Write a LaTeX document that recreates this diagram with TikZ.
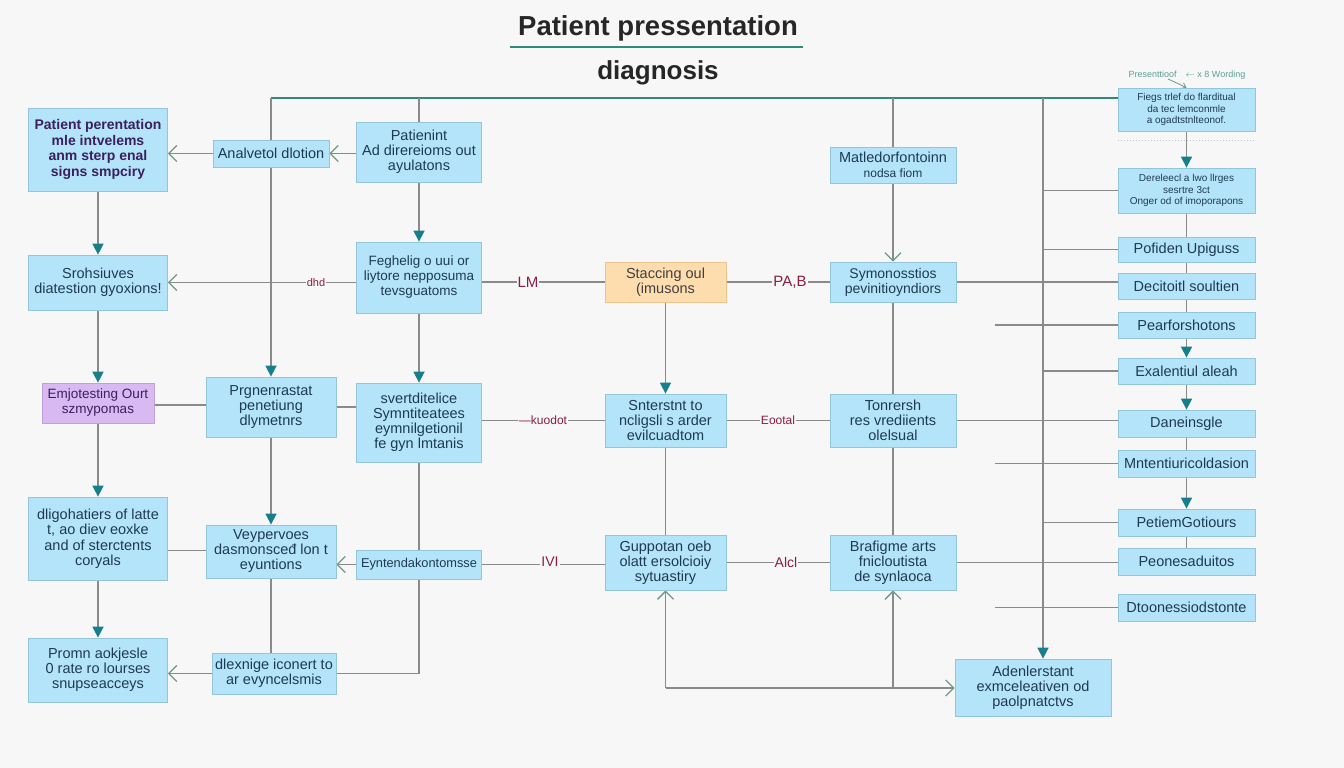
\documentclass[tikz,border=0pt]{standalone}
\usepackage{fontspec}
\setmainfont{Liberation Sans}
\usetikzlibrary{arrows.meta,calc}
\definecolor{bgc}{HTML}{F7F7F7}
\definecolor{boxfill}{HTML}{B4E4F9}
\definecolor{boxline}{HTML}{93C5DD}
\definecolor{txt}{HTML}{1E3A52}
\definecolor{purtxt}{HTML}{3B1F5E}
\definecolor{lavfill}{HTML}{D8B9F2}
\definecolor{lavline}{HTML}{BFA0DE}
\definecolor{orfill}{HTML}{FDDCAE}
\definecolor{orline}{HTML}{EEC48E}
\definecolor{lnc}{HTML}{8A8A8A}
\definecolor{topc}{HTML}{2F8A7C}
\definecolor{tipc}{HTML}{167F8C}
\definecolor{oac}{HTML}{6E9A8A}
\definecolor{lblred}{HTML}{8B1E3F}
\pgfdeclarelayer{back}
\pgfdeclarelayer{lines}
\pgfsetlayers{back,lines,main}
\tikzset{
  box/.style={draw=boxline, fill=boxfill, line width=0.8pt, align=center, inner sep=1pt,
    text=txt, font=\fontsize{14.5}{15}\selectfont},
  sbox/.style={box, font=\fontsize{10}{11.5}\selectfont},
  rbox/.style={box, minimum width=137pt, font=\fontsize{14.5}{15}\selectfont},
  ln/.style={draw=lnc, line width=1.6pt},
  topl/.style={draw=topc, line width=1.8pt},
  farr/.style={-{Triangle[length=11pt,width=11pt,fill=tipc,color=tipc]}},
  oarr/.style={-{Straight Barb[length=8pt,width=16pt,color=oac,line width=1.3pt]}},
  lbl/.style={text=lblred, fill=bgc, inner sep=1pt, font=\fontsize{13}{13}\selectfont},
}
\begin{document}
\begin{tikzpicture}[x=1pt,y=-1pt]
\begin{pgfonlayer}{back}
\fill[bgc] (0,0) rectangle (1344,768);
\end{pgfonlayer}
\useasboundingbox (0,0) rectangle (1344,768);

% title
\node[font=\bfseries\fontsize{27.5}{29}\selectfont, text=black!85] (title1) at (658,28) {Patient pressentation};
\node[font=\bfseries\fontsize{26}{28}\selectfont, text=black!85] (title2) at (658,73) {diagnosis};
\coordinate (ul1) at (510,47);
\coordinate (ul2) at (803,47);
\draw[draw=topc, line width=2.4pt] (ul1) -- (ul2);

% column A
\node[box, minimum width=139pt, minimum height=83pt, text=purtxt, font=\bfseries\fontsize{14}{15.5}\selectfont] (a1) at (98,149.5) {Patient perentation\\ mle intvelems\\ anm sterp enal\\ signs smpciry};
\node[box, minimum width=139pt, minimum height=55pt] (a2) at (98,282.5) {Srohsiuves\\ diatestion gyoxions!};
\node[box, draw=lavline, fill=lavfill, text=purtxt, minimum width=112pt, minimum height=40pt, font=\fontsize{13.5}{15}\selectfont] (a3) at (98,403) {Emjotesting Ourt\\ szmypomas};
\node[box, minimum width=139pt, minimum height=83pt, font=\fontsize{14.5}{15.5}\selectfont] (a4) at (98,538.5) {dligohatiers of latte\\ t, ao diev eoxke\\ and of sterctents\\ coryals};
\node[box, minimum width=139pt, minimum height=64pt] (a5) at (98,670) {Promn aokjesle\\ 0 rate ro lourses\\ snupseacceys};

% column B
\node[box, minimum width=116pt, minimum height=27pt] (b1) at (271,153.5) {Analvetol dlotion};
\node[box, minimum width=130pt, minimum height=60pt] (b2) at (271,407) {Prgnenrastat\\ penetiung\\ dlymetnrs};
\node[box, minimum width=130pt, minimum height=53pt] (b3) at (271,551.5) {Veypervoes\\ dasmonsceđ lon t\\ eyuntions};
\node[box, minimum width=124pt, minimum height=41pt] (b4) at (274,673.5) {dlexnige iconert to\\ ar evyncelsmis};

% column C
\node[box, minimum width=125pt, minimum height=60pt] (c1) at (419,152) {Patienint\\ Ad direreioms out\\ ayulatons};
\node[box, minimum width=125pt, minimum height=71pt, font=\fontsize{13.5}{15}\selectfont] (c2) at (419,277.5) {Feghelig o uui or\\ liytore nepposuma\\ tevsguatoms};
\node[box, minimum width=125pt, minimum height=79pt] (c3) at (419,422.5) {svertditelice\\ Symntiteatees\\ eymnilgetionil\\ fe gyn lmtanis};
\node[box, minimum width=125pt, minimum height=29pt, font=\fontsize{12.8}{14}\selectfont] (c4) at (419,564.5) {Eyntendakontomsse};

% column D
\node[box, draw=orline, fill=orfill, text=black!75, minimum width=121pt, minimum height=40pt] (d1) at (665.5,282) {Staccing oul\\ (imusons};
\node[box, minimum width=121pt, minimum height=53pt] (d2) at (665.5,420.5) {Snterstnt to\\ ncligsli s arder\\ evilcuadtom};
\node[box, minimum width=121pt, minimum height=55pt] (d3) at (665.5,562.5) {Guppotan oeb\\ olatt ersolcioiy\\ sytuastiry};

% column E
\node[box, minimum width=126pt, minimum height=36pt] (e0) at (893,165) {Matledorfontoinn\\ {\fontsize{12}{13}\selectfont nodsa fiom}};
\node[box, minimum width=126pt, minimum height=40pt, font=\fontsize{14}{15}\selectfont] (e1) at (893,282) {Symonosstios\\ pevinitioyndiors};
\node[box, minimum width=126pt, minimum height=53pt] (e2) at (893,420.5) {Tonrersh\\ res vrediients\\ olelsual};
\node[box, minimum width=126pt, minimum height=55pt] (e3) at (893,562.5) {Brafigme arts\\ fnicloutista\\ de synlaoca};

% bottom right
\node[box, minimum width=156pt, minimum height=57pt] (f) at (1033,687.5) {Adenlerstant\\ exmceleativen od\\ paolpnatctvs};

% right column
\node[sbox, minimum width=137pt, minimum height=43pt] (r0) at (1186.5,109.5) {Fiegs trlef do flarditual\\ da tec lemconmle\\ a ogadtstnlteonof.};
\node[sbox, minimum width=137pt, minimum height=45pt] (r1) at (1186.5,190.5) {Dereleecl a lwo llrges\\ sesrtre 3ct\\ Onger od of imoporapons};
\node[rbox, minimum height=25pt] (r2) at (1186.5,249.5) {Pofiden Upiguss};
\node[rbox, minimum height=26pt] (r3) at (1186.5,286) {Decitoitl soultien};
\node[rbox, minimum height=26pt] (r4) at (1186.5,325) {Pearforshotons};
\node[rbox, minimum height=26pt] (r5) at (1186.5,371) {Exalentiul aleah};
\node[rbox, minimum height=27pt] (r6) at (1186.5,423.5) {Daneinsgle};
\node[rbox, minimum height=27pt] (r7) at (1186.5,463.5) {Mntentiuricoldasion};
\node[rbox, minimum height=27pt] (r8) at (1186.5,522.5) {PetiemGotiours};
\node[rbox, minimum height=27pt] (r9) at (1186.5,561.5) {Peonesaduitos};
\node[rbox, minimum height=27pt] (r10) at (1186.5,607.5) {Dtoonessiodstonte};

\node[text=topc!80, font=\fontsize{9}{10}\selectfont, inner sep=1pt] (pl) at (1187,75) {Presenttioof\quad$\leftarrow$ x 8 Wording};
\coordinate (plk) at (1168,79);

% labels
\node[lbl, font=\fontsize{11}{11}\selectfont] (l1) at (316,283) {dhd};
\node[lbl, font=\fontsize{15}{15}\selectfont] (l2) at (528,282) {LM};
\node[lbl, font=\fontsize{15}{15}\selectfont] (l3) at (790,282) {PA,B};
\node[lbl, font=\fontsize{12}{12}\selectfont] (l4) at (543,420) {—kuodot};
\node[lbl, font=\fontsize{12}{12}\selectfont] (l5) at (778,420) {Eootal};
\node[lbl, font=\fontsize{14}{14}\selectfont] (l6) at (550,562) {IVI};
\node[lbl, font=\fontsize{14}{14}\selectfont] (l7) at (786,562) {Alcl};

% helper coordinates
\coordinate (t1) at (271,98);
\coordinate (t2) at (419,98);
\coordinate (t3) at (893,98);
\coordinate (t4) at (1043,98);
\coordinate (sx) at (995,0);
\coordinate (bl) at (665.5,688);

\begin{pgfonlayer}{lines}
\draw[topl] (t1) -- (r0.west |- t1);
\draw[draw=oac, line width=0.8pt, -{Straight Barb[length=4pt,width=6pt]}] (plk) -- (r0.north);
\draw[draw=lnc!50, dotted, line width=1pt] (r0.south west) ++(0,9) coordinate (dl1) -- (dl1 -| r0.east);

% column A
\draw[ln, farr] (a1) -- (a2);
\draw[ln, farr] (a2) -- (a3);
\draw[ln, farr] (a3) -- (a4);
\draw[ln, farr] (a4) -- (a5);
% column B
\draw[ln, farr] (t1) -- (b2.north);
\draw[ln, farr] (b2) -- (b3);
\draw[ln] (b3.south) -- (b3.south |- b4.north);
% column C
\draw[ln] (t2) -- (c1.north);
\draw[ln, farr] (c1) -- (c2);
\draw[ln, farr] (c2) -- (c3);
\draw[ln] (c3.south) |- (b4.east);
% column D
\draw[ln, farr] (d1) -- (d2);
\draw[ln] (d2) -- (d3);
\draw[ln, oarr] (bl) -- (d3.south);
\draw[ln, oarr] (bl) -- (f.west |- bl);
\draw[ln, oarr] (e3.south |- bl) -- (e3.south);
% column E
\draw[ln] (t3) -- (e0.north);
\draw[ln, oarr] (e0) -- (e1);
\draw[ln] (e1) -- (e2);
\draw[ln] (e2) -- (e3);
% trunk to F
\draw[ln, farr] (t4) -- (t4 |- f.north);
% right column vertical
\draw[ln, farr] (r0) -- (r1);
\draw[ln] (r1) -- (r2);
\draw[ln] (r2) -- (r3);
\draw[ln] (r3) -- (r4);
\draw[ln, farr] (r4) -- (r5);
\draw[ln, farr] (r5) -- (r6);
\draw[ln] (r6) -- (r7);
\draw[ln, farr] (r7) -- (r8);
\draw[ln] (r8) -- (r9);
% horizontals to right column
\draw[ln] (r1.west -| t4) -- (r1.west);
\draw[ln] (r2.west -| t4) -- (r2.west);
\draw[ln] (e1.east) -- (e1.east -| r3.west);
\draw[ln] (r4.west -| sx) -- (r4.west);
\draw[ln] (r5.west -| t4) -- (r5.west);
\draw[ln] (e2.east) -- (e2.east -| r6.west);
\draw[ln] (r7.west -| sx) -- (r7.west);
\draw[ln] (r8.west -| t4) -- (r8.west);
\draw[ln] (e3.east) -- (e3.east -| r9.west);
\draw[ln] (r10.west -| sx) -- (r10.west);
% row 1
\draw[ln, oarr] (b1.west) -- (b1.west -| a1.east);
\draw[ln, oarr] (c1.west |- b1.west) -- (b1.east);
% row 2
\draw[ln, oarr] (c2.west |- a2.east) -- (a2.east);
\draw[ln] (c2.east |- d1.west) -- (d1.west);
\draw[ln] (d1.east) -- (e1.west);
% row 3
\draw[ln] (a3.east) ++(0,2) coordinate (r3a) -- (r3a -| b2.west);
\draw[ln] (b2.east) -- (b2.east -| c3.west);
\draw[ln] (c3.east |- d2.west) -- (d2.west);
\draw[ln] (d2.east) -- (e2.west);
% row 4
\draw[ln] (a4.east) ++(0,12) coordinate (r4a) -- (r4a -| b3.west);
\draw[ln, oarr] (c4.west) -- (c4.west -| b3.east);
\draw[ln] (c4.east) -- (c4.east -| d3.west);
\draw[ln] (d3.east) -- (e3.west);
% row 5
\draw[ln, oarr] (b4.west) -- (b4.west -| a5.east);
\end{pgfonlayer}
\end{tikzpicture}
\end{document}
